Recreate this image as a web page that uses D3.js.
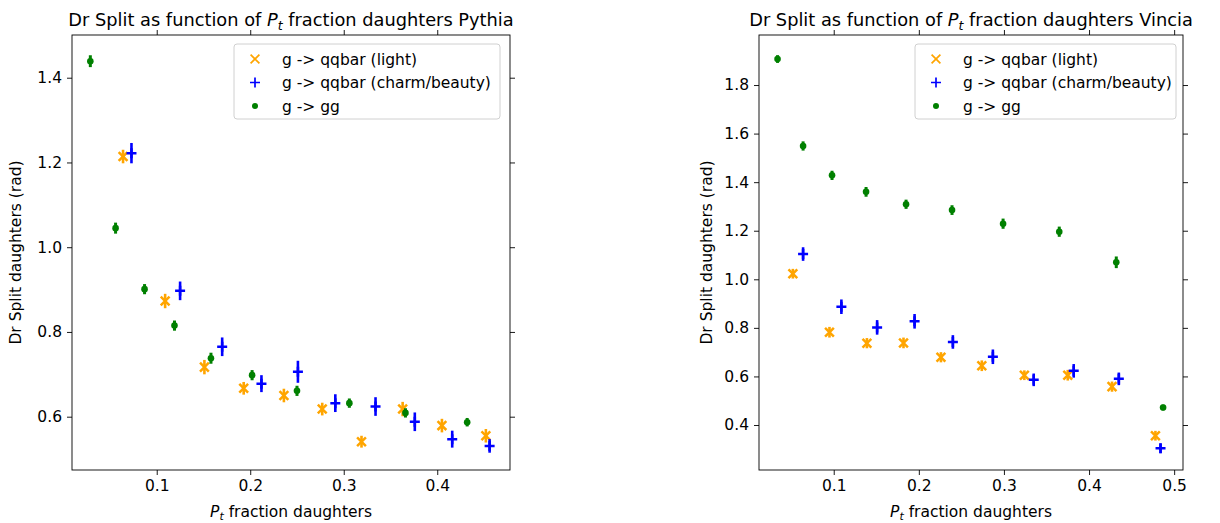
<!DOCTYPE html>
<html><head><meta charset="utf-8">
<script src="https://cdn.jsdelivr.net/npm/d3@7"></script>
<style>
body{margin:0;background:#fff;}
text{font-family:"DejaVu Sans",sans-serif;fill:#000;}
</style></head>
<body><svg id="c" width="1220" height="523"></svg>
<script>
// ---------- DATA ----------
const seriesNames = ["g -> qqbar (light)", "g -> qqbar (charm/beauty)", "g -> gg"];
const xTicks = [0.1, 0.2, 0.3, 0.4];
const xTicksRight = [0.1, 0.2, 0.3, 0.4, 0.5];
const yTicksLeft = [0.6, 0.8, 1.0, 1.2, 1.4];
const yTicksRight = [0.4, 0.6, 0.8, 1.0, 1.2, 1.4, 1.6, 1.8];

// Pythia
const pyLightX = [0.064, 0.109, 0.151, 0.193, 0.236, 0.277, 0.319, 0.363, 0.405, 0.452];
const pyLightY = [1.214, 0.873, 0.717, 0.667, 0.650, 0.618, 0.541, 0.618, 0.579, 0.555];
const pyLightE = [0.016, 0.017, 0.017, 0.015, 0.016, 0.015, 0.014, 0.017, 0.016, 0.016];
const pyHeavyX = [0.073, 0.125, 0.170, 0.212, 0.251, 0.291, 0.334, 0.376, 0.416, 0.456];
const pyHeavyY = [1.222, 0.897, 0.765, 0.678, 0.706, 0.632, 0.624, 0.588, 0.547, 0.531];
const pyHeavyE = [0.024, 0.022, 0.022, 0.020, 0.026, 0.021, 0.022, 0.022, 0.020, 0.016];
const pyGgX = [0.029, 0.056, 0.087, 0.119, 0.158, 0.202, 0.250, 0.306, 0.366, 0.432];
const pyGgY = [1.439, 1.045, 0.901, 0.815, 0.738, 0.698, 0.661, 0.632, 0.609, 0.587];
const pyGgE = [0.014, 0.013, 0.012, 0.012, 0.013, 0.012, 0.012, 0.011, 0.011, 0.010];

// Vincia
const viLightX = [0.052, 0.095, 0.139, 0.182, 0.226, 0.274, 0.324, 0.375, 0.427, 0.478];
const viLightY = [1.023, 0.782, 0.737, 0.738, 0.679, 0.644, 0.605, 0.605, 0.558, 0.356];
const viLightE = [0.020, 0.022, 0.021, 0.022, 0.021, 0.022, 0.020, 0.022, 0.021, 0.020];
const viHeavyX = [0.064, 0.109, 0.151, 0.195, 0.240, 0.287, 0.335, 0.382, 0.435, 0.484];
const viHeavyY = [1.104, 0.887, 0.802, 0.827, 0.742, 0.681, 0.586, 0.623, 0.590, 0.304];
const viHeavyE = [0.028, 0.030, 0.030, 0.030, 0.028, 0.030, 0.026, 0.028, 0.026, 0.020];
const viGgX = [0.034, 0.064, 0.098, 0.138, 0.185, 0.239, 0.299, 0.365, 0.432, 0.487];
const viGgY = [1.907, 1.549, 1.428, 1.360, 1.309, 1.285, 1.229, 1.196, 1.070, 0.472];
const viGgE = [0.016, 0.019, 0.019, 0.020, 0.019, 0.020, 0.021, 0.021, 0.024, 0.012];

const colors = ["#ffa500", "#0000ff", "#008000"];
const FS = 15.5;

// ---------- DRAW ----------
const svg = d3.select("#c");

function panel(cfg) {
  const g = svg.append("g");
  const x = d3.scaleLinear().domain(cfg.xDomain).range([cfg.left, cfg.right]);
  const y = d3.scaleLinear().domain(cfg.yDomain).range([cfg.bottom, cfg.top]);

  const fmt = d3.format(".1f");
  const axB = g.append("g").attr("transform", `translate(0,${cfg.bottom})`)
    .call(d3.axisBottom(x).tickValues(cfg.xTicks).tickFormat(fmt).tickSizeInner(5).tickSizeOuter(0).tickPadding(5));
  const axT = g.append("g").attr("transform", `translate(0,${cfg.top})`)
    .call(d3.axisTop(x).tickValues(cfg.xTicks).tickFormat("").tickSizeInner(5).tickSizeOuter(0));
  const axL = g.append("g").attr("transform", `translate(${cfg.left},0)`)
    .call(d3.axisLeft(y).tickValues(cfg.yTicks).tickFormat(fmt).tickSizeInner(5).tickSizeOuter(0).tickPadding(5));
  const axR = g.append("g").attr("transform", `translate(${cfg.right},0)`)
    .call(d3.axisRight(y).tickValues(cfg.yTicks).tickFormat("").tickSizeInner(5).tickSizeOuter(0));
  [axB, axT, axL, axR].forEach(a => {
    a.select(".domain").remove();
    a.selectAll("line").attr("stroke", "#000").attr("stroke-width", 0.9);
    a.selectAll("text").style("font-size", FS + "px").attr("fill", "#222");
  });
  g.append("rect").attr("x", cfg.left).attr("y", cfg.top)
    .attr("width", cfg.right - cfg.left).attr("height", cfg.bottom - cfg.top)
    .attr("fill", "none").attr("stroke", "#000").attr("stroke-width", 0.9);

  cfg.series.forEach((s, i) => {
    const col = colors[i];
    const pts = s.x.map((xv, j) => ({x: xv, y: s.y[j], e: s.e[j]}));
    const sg = g.append("g");
    sg.selectAll("line.err").data(pts).join("line")
      .attr("x1", d => x(d.x)).attr("x2", d => x(d.x))
      .attr("y1", d => y(d.y - d.e)).attr("y2", d => y(d.y + d.e))
      .attr("stroke", col).attr("stroke-width", i === 2 ? 3 : 2.6);
    drawMarkers(sg, pts.map(d => [x(d.x), y(d.y)]), i, false);
  });

  // legend
  const lg = g.append("g");
  lg.append("rect").attr("x", cfg.legX).attr("y", cfg.legY).attr("width", cfg.legW).attr("height", 75)
    .attr("rx", 3).attr("fill", "#fff").attr("fill-opacity", 0.8)
    .attr("stroke", "#d0d0d0").attr("stroke-width", 1);
  seriesNames.forEach((n, i) => {
    const yy = cfg.legY + 15 + i * 23.5;
    drawMarkers(lg, [[cfg.legX + 21, yy]], i, true);
    lg.append("text").attr("x", cfg.legX + 48).attr("y", yy + 5.5)
      .style("font-size", FS + "px").attr("fill", "#222").text(n);
  });

  const cx = (cfg.left + cfg.right) / 2;
  const t = g.append("text").attr("x", cx).attr("y", 26).attr("text-anchor", "middle").style("font-size", "17.8px");
  t.append("tspan").text("Dr Split as function of ");
  t.append("tspan").style("font-style", "italic").text("P");
  t.append("tspan").style("font-style", "italic").style("font-size", "12.5px").attr("dy", 3.5).text("t");
  t.append("tspan").attr("dy", -3.5).text(" fraction daughters " + cfg.name);

  const xl = g.append("text").attr("x", cx).attr("y", 517).attr("text-anchor", "middle").style("font-size", FS + "px").attr("fill", "#222");
  xl.append("tspan").style("font-style", "italic").text("P");
  xl.append("tspan").style("font-style", "italic").style("font-size", "11px").attr("dy", 3).text("t");
  xl.append("tspan").attr("dy", -3).text(" fraction daughters");

  g.append("text").attr("transform", `translate(${cfg.yLabelX},${(cfg.top + cfg.bottom) / 2}) rotate(-90)`)
    .attr("text-anchor", "middle").style("font-size", FS + "px").attr("fill", "#222").text("Dr Split daughters (rad)");
}

function drawMarkers(sel, pts, i, legend) {
  const col = colors[i];
  const h = 4.4;
  if (i === 0) {
    const sw = legend ? 1.7 : 2.5;
    pts.forEach(p => {
      sel.append("path").attr("d", `M${p[0]-h},${p[1]-h}L${p[0]+h},${p[1]+h}M${p[0]-h},${p[1]+h}L${p[0]+h},${p[1]-h}`)
        .attr("stroke", col).attr("stroke-width", sw).attr("fill", "none");
    });
  } else if (i === 1) {
    const sw = legend ? 1.7 : 2.5;
    const hh = 5;
    pts.forEach(p => {
      sel.append("path").attr("d", `M${p[0]-hh},${p[1]}L${p[0]+hh},${p[1]}M${p[0]},${p[1]-hh}L${p[0]},${p[1]+hh}`)
        .attr("stroke", col).attr("stroke-width", sw).attr("fill", "none");
    });
  } else {
    sel.selectAll(null).data(pts).join("circle")
      .attr("cx", d => d[0]).attr("cy", d => d[1]).attr("r", legend ? 3 : 3.3).attr("fill", col);
  }
}

panel({
  name: "Pythia", left: 72, right: 510, top: 35, bottom: 470,
  xDomain: [0.0094, 0.4778], yDomain: [0.4742, 1.5008],
  xTicks: xTicks, yTicks: yTicksLeft, yLabelX: 21,
  legX: 234, legY: 44, legW: 266,
  series: [{x: pyLightX, y: pyLightY, e: pyLightE}, {x: pyHeavyX, y: pyHeavyY, e: pyHeavyE}, {x: pyGgX, y: pyGgY, e: pyGgE}]
});
panel({
  name: "Vincia", left: 759, right: 1183, top: 35, bottom: 470,
  xDomain: [0.0122, 0.5104], yDomain: [0.2147, 2.006],
  xTicks: xTicksRight, yTicks: yTicksRight, yLabelX: 712,
  legX: 915, legY: 44, legW: 261,
  series: [{x: viLightX, y: viLightY, e: viLightE}, {x: viHeavyX, y: viHeavyY, e: viHeavyE}, {x: viGgX, y: viGgY, e: viGgE}]
});
</script></body></html>
